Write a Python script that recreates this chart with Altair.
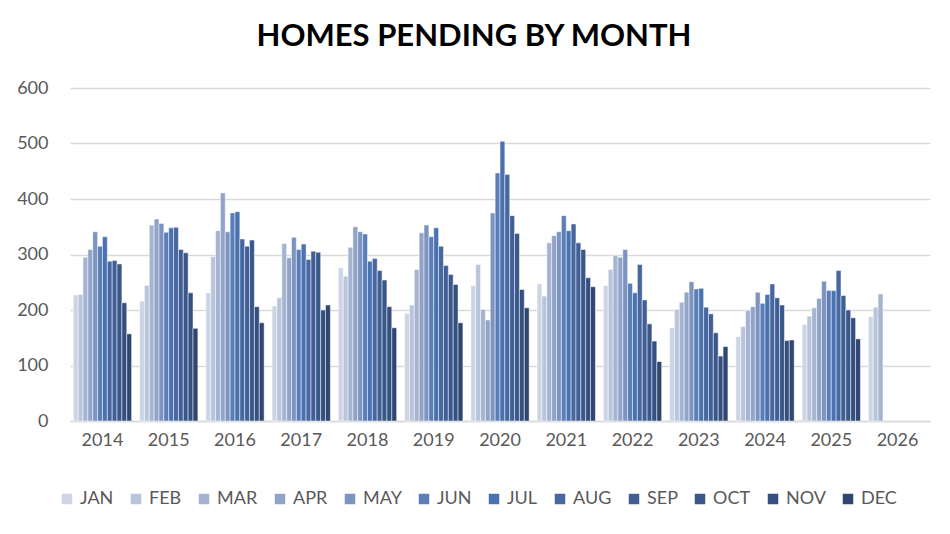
import altair as alt
import pandas as pd

years = ["2014", "2015", "2016", "2017", "2018", "2019", "2020",
         "2021", "2022", "2023", "2024", "2025", "2026"]
months = ["JAN", "FEB", "MAR", "APR", "MAY", "JUN",
          "JUL", "AUG", "SEP", "OCT", "NOV", "DEC"]
colors = ["#cdd5e4", "#b9c5db", "#a5b4d1", "#91a4c8", "#7d94c1", "#5b7eb9",
          "#4a72b0", "#4767a0", "#415f96", "#3a578a", "#344f80", "#2f4770"]

v2014 = [227, 228, 295, 309, 341, 315, 332, 288, 289, 283, 213, 157]
v2015 = [216, 244, 353, 364, 356, 340, 348, 349, 309, 303, 231, 167]
v2016 = [231, 296, 343, 411, 341, 375, 377, 328, 315, 326, 206, 177]
v2017 = [207, 222, 320, 294, 331, 309, 319, 291, 306, 304, 200, 209]
v2018 = [276, 261, 313, 350, 341, 337, 288, 293, 271, 254, 206, 168]
v2019 = [194, 209, 273, 339, 353, 332, 348, 315, 280, 264, 246, 177]
v2020 = [244, 282, 201, 182, 375, 447, 504, 444, 370, 338, 237, 204]
v2021 = [247, 225, 321, 334, 341, 370, 343, 355, 321, 309, 258, 242]
v2022 = [244, 273, 298, 295, 309, 248, 231, 282, 218, 175, 144, 107]
v2023 = [168, 201, 214, 232, 251, 238, 239, 205, 193, 159, 117, 134]
v2024 = [152, 170, 199, 206, 232, 212, 228, 247, 222, 209, 145, 146]
v2025 = [174, 189, 204, 221, 252, 235, 235, 271, 226, 200, 186, 148]
v2026 = [188, 205, 229]

series = [v2014, v2015, v2016, v2017, v2018, v2019, v2020,
          v2021, v2022, v2023, v2024, v2025, v2026]

rows = []
for y, vals in zip(years, series):
    for m, v in zip(months, vals):
        rows.append({"year": y, "month": m, "value": v})
df = pd.DataFrame(rows)

FONT = "Lato"
GRAY = "#595959"

chart = alt.Chart(df).mark_bar(stroke="white", strokeWidth=0.6, strokeOpacity=0.8).encode(
    x=alt.X("year:N", sort=years,
            scale=alt.Scale(domain=years, paddingInner=0.12, paddingOuter=0.05),
            axis=alt.Axis(title=None, labelAngle=0, ticks=False, domain=True,
                          domainColor="#d9d9d9", domainWidth=1.5,
                          labelFontSize=18, labelColor=GRAY, labelFont=FONT,
                          labelPadding=10)),
    xOffset=alt.XOffset("month:N", sort=months,
                        scale=alt.Scale(domain=months, paddingInner=0, paddingOuter=0)),
    y=alt.Y("value:Q",
            scale=alt.Scale(domain=[0, 600]),
            axis=alt.Axis(title=None, values=[0, 100, 200, 300, 400, 500, 600],
                          ticks=False, domain=False, gridColor="#d9d9d9",
                          gridWidth=1.5, labelFontSize=18, labelColor=GRAY,
                          labelFont=FONT, labelPadding=22)),
    color=alt.Color("month:N", sort=months,
                    scale=alt.Scale(domain=months, range=colors),
                    legend=alt.Legend(title=None, orient="none", direction="horizontal",
                                      legendX=-12, legendY=402,
                                      symbolType="square", symbolSize=110,
                                      symbolStrokeWidth=0,
                                      labelFontSize=18, labelColor=GRAY,
                                      labelFont=FONT, columnPadding=13,
                                      labelOffset=4)),
).properties(
    width=860,
    height=333,
    title=alt.Title("HOMES PENDING BY MONTH", fontSize=31, font=FONT,
                    fontWeight="bold", color="#000000", anchor="middle",
                    offset=26, dx=-26),
    autosize=alt.AutoSizeParams(type="none"),
    padding={"left": 62, "top": 80, "right": 12, "bottom": 100},
).configure_view(stroke=None)

chart.save("out.html", embed_options={"renderer": "svg", "actions": False})
